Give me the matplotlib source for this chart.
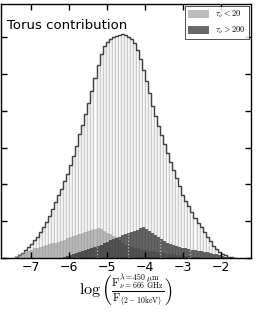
import numpy as np
import matplotlib
matplotlib.use("Agg")
import matplotlib.pyplot as plt

plt.rcParams['mathtext.fontset'] = 'cm'

# bin layout (width 0.08), centres from -7.40 to -1.64
bin_lo = -7.44
bin_w = 0.08

# all sources
total = [4, 8, 15, 22, 30, 39, 48, 58, 70, 84,
         99, 115, 133, 152, 170, 188, 208, 228, 252, 278,
         305, 336, 362, 390, 420, 455, 490, 525, 555, 575,
         588, 596, 600, 604, 607, 609, 605, 601, 594, 585,
         565, 540, 512, 482, 448, 412, 385, 358, 333, 310,
         285, 262, 240, 218, 195, 172, 155, 140, 125, 110,
         96, 84, 71, 58, 45, 33, 24, 17, 11, 7,
         4, 2, 1]

# tau_nu < 20
thin = [5, 10, 14, 17, 20, 23, 26, 28, 30, 32,
        35, 37, 40, 42, 44, 47, 50, 54, 57, 59,
        62, 65, 68, 71, 74, 77, 79, 81, 78, 74,
        69, 65, 61, 56, 48, 40, 35, 32, 30, 28,
        26, 24, 22, 21, 19, 18, 17, 16, 14, 13,
        12, 11, 10, 9, 8, 7, 6, 5, 4, 3,
        2, 1, 0, 0, 0, 0, 0, 0, 0, 0,
        0, 0, 0]

# tau_nu > 200
thick = [0, 0, 0, 0, 0, 0, 0, 0, 0, 0,
         0, 0, 0, 0, 0, 1, 3, 5, 7, 10,
         14, 17, 19, 22, 24, 27, 30, 33, 36, 40,
         44, 48, 51, 54, 58, 62, 65, 68, 71, 74,
         77, 82, 84, 80, 73, 67, 63, 57, 52, 47,
         42, 38, 35, 32, 30, 28, 26, 24, 22, 21,
         19, 18, 17, 16, 14, 12, 10, 7, 5, 3,
         1, 0, 0]

dotted_x = [-5.26, -4.45, -3.60, -2.80]

edges = bin_lo + bin_w * np.arange(len(total) + 1)
centres = 0.5 * (edges[:-1] + edges[1:])

fig = plt.figure(figsize=(2.57, 3.12), dpi=100)
ax = fig.add_axes([0.004, 0.173, 0.973, 0.814])

ax.bar(centres, total, width=bin_w, color='white', edgecolor='#cccccc', linewidth=1.0)
ax.stairs(total, edges, color='#404040', linewidth=1.0)
ax.bar(centres, thin, width=bin_w, color='#909090', alpha=0.6, linewidth=0,
       label=r'$\tau_\nu<20$')
ax.bar(centres, thick, width=bin_w, color='#202020', alpha=0.68, linewidth=0,
       label=r'$\tau_\nu>200$')
ax.vlines(dotted_x, 0, np.interp(dotted_x, centres, thick), colors='#bbbbbb',
          linestyles=':', linewidth=0.9)

ax.set_xlim(-7.8, -1.2)
ax.set_ylim(0, 690)
ax.set_xticks([-7, -6, -5, -4, -3, -2])
ax.set_xticklabels(['−7', '−6', '−5', '−4', '−3', '−2'])
ax.set_yticks(np.arange(0, 700, 100))
ax.set_yticklabels([])
ax.tick_params(direction='in', top=True, right=True, length=4, width=1,
               labelsize=9, pad=2)
for s in ax.spines.values():
    s.set_linewidth(1.0)

ax.text(0.025, 0.9, 'Torus contribution', transform=ax.transAxes, fontsize=9.5)
ax.set_xlabel(r'$\log\left(\frac{\mathrm{F}^{\lambda=450\ \mu\mathrm{m}}_{\nu=666\ \mathrm{GHz}}}'
              r'{\mathrm{F}_{(2-10\mathrm{keV})}}\right)$', fontsize=11.5, labelpad=-1)

leg = ax.legend(loc='upper right', fontsize=6, fancybox=False, frameon=True,
                borderaxespad=0.2, handlelength=2.5, handleheight=1.0,
                borderpad=0.4, labelspacing=0.5)
leg.get_frame().set_edgecolor('black')
leg.get_frame().set_linewidth(0.6)

fig.savefig('out.png', dpi=100)
